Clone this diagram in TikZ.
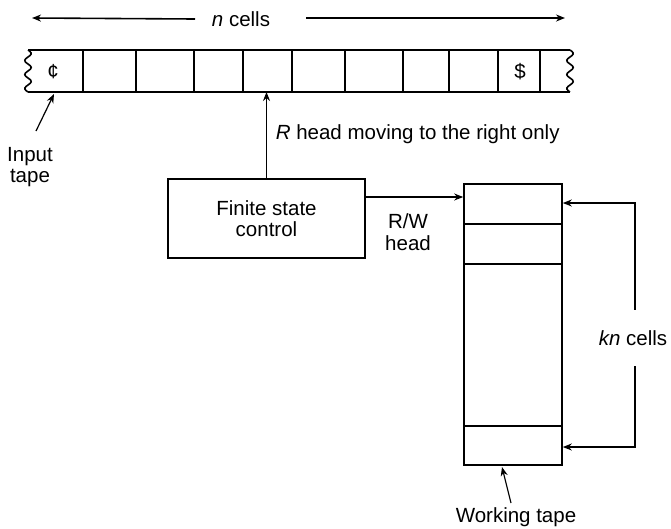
\documentclass[tikz,border=0pt]{standalone}
\usepackage{fontspec}
\setmainfont{Liberation Sans}
\usetikzlibrary{arrows.meta}
\begin{document}
\begin{tikzpicture}[x=1pt,y=-1pt, line width=1.6pt,
  every node/.style={font=\fontsize{20.5}{21.5}\selectfont, inner sep=0pt},
  arr/.style={-{Stealth[length=9pt,width=7pt]}},
  box/.style={draw, line width=1.6pt}]
\useasboundingbox (0,0) rectangle (671,528);

% n cells arrow
\node (ncells) at (241,19) {\textit{n} cells};
\coordinate (nl) at (32,18);
\coordinate (nr) at (565,18);
\draw[arr] (ncells.west -| 195,0) -- (nl);
\draw[arr] (306,18) -- (nr);

% input tape
\coordinate (tapeTL) at (28,50);
\coordinate (tapeBL) at (28,92);
\coordinate (tapeTR) at (570,50);
\coordinate (tapeBR) at (570,92);
\draw (tapeTL) -- (tapeTR);
\draw (tapeBL) -- (tapeBR);
\draw plot[smooth, domain=0:42, samples=30] ({28+3.2*sin(\x*360/14)},{50+\x});
\draw plot[smooth, domain=0:42, samples=30] ({570+3.2*sin(\x*360/14)},{50+\x});
\foreach \cx in {83,136,194,243,292,345,403,449,498,540}
  \draw (\cx,50) -- (\cx,92);
\node (cent) at (53,72) {¢};
\node (dollar) at (520,72) {\$};

% input tape label
\node[align=center] (inp) at (30,167) {Input\\tape};
\coordinate (inTail) at (36,131);
\coordinate (inTip) at (54,94);
\draw[arr, line width=1.2pt] (inTail) -- (inTip);

% finite state control
\node[box, minimum width=197pt, minimum height=79pt, align=center] (fsc) at (266.5,218.5) {Finite state\\control};
\coordinate (tapeBot) at (267,92);
\draw[arr] (fsc.north) -- (fsc.north |- tapeBot);
\node[anchor=west] (rlab) at (275,134) {\textit{R} head moving to the right only};

% working tape
\node[box, minimum width=98pt, minimum height=281pt] (wt) at (513,324.5) {};
\draw ([yshift=-41pt]wt.north west) -- ([yshift=-41pt]wt.north east);
\draw ([yshift=-81pt]wt.north west) -- ([yshift=-81pt]wt.north east);
\draw ([yshift=40pt]wt.south west) -- ([yshift=40pt]wt.south east);

% R/W head
\coordinate (rwy) at (0,197);
\draw[arr] (fsc.east |- rwy) -- (wt.west |- rwy);
\node[align=center] (rw) at (408,232) {R/W\\head};

% kn cells
\node[inner ysep=20pt] (kn) at (633,338) {\textit{kn} cells};
\coordinate (kt) at (635,203);
\coordinate (kb) at (635,447);
\draw[arr] (kn.north -| kt) -- (kt) -- (wt.east |- kt);
\draw[arr] (kn.south -| kb) -- (kb) -- (wt.east |- kb);

% working tape label
\node (wlab) at (516,517) {Working tape};
\coordinate (wTail) at (511,503);
\coordinate (wTip) at (502,467);
\draw[arr, line width=1.2pt] (wTail) -- (wTip);
\end{tikzpicture}
\end{document}
